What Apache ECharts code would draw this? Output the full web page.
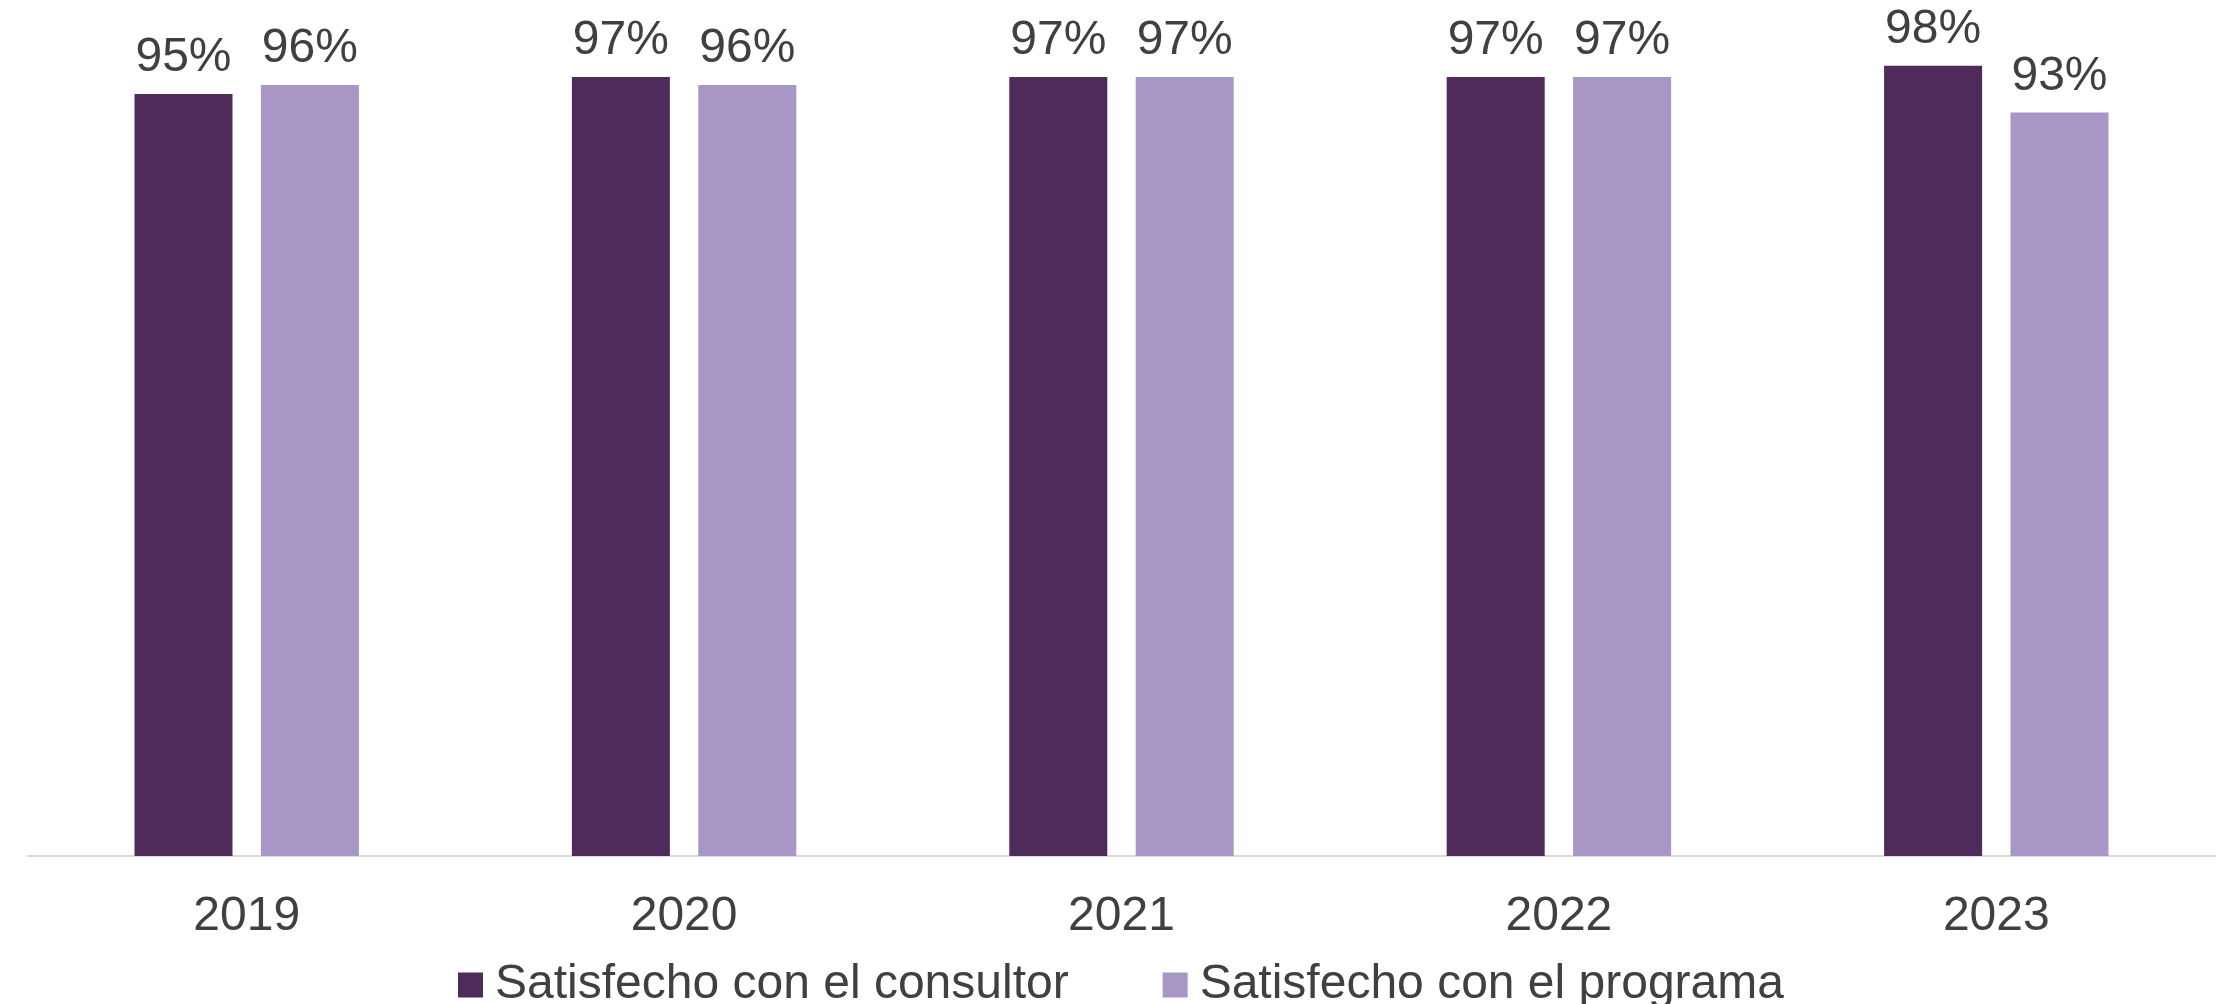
<!DOCTYPE html>
<html>
<head>
<meta charset="utf-8">
<script src="https://cdn.jsdelivr.net/npm/echarts@6/dist/echarts.min.js"></script>
<style>
html,body{margin:0;padding:0;background:#fff;}
#chart{width:2218px;height:1004px;}
</style>
</head>
<body>
<div id="chart"></div>
<script>
const categories = ['2019', '2020', '2021', '2022', '2023'];
const seriesNames = ['Satisfecho con el consultor', 'Satisfecho con el programa'];
const consultor = [94.9, 97, 97, 97, 98.4];
const programa = [96, 96, 97, 97, 92.6];

const font = '"Liberation Sans", Arial, sans-serif';
const pct = p => Math.round(p.value) + '%';
const chart = echarts.init(document.getElementById('chart'));
chart.setOption({
  animation: false,
  backgroundColor: '#ffffff',
  textStyle: { fontFamily: font },
  grid: { left: 28, right: 3, top: 53, bottom: 148, containLabel: false },
  legend: {
    bottom: -10,
    left: 453,
    itemWidth: 25,
    itemHeight: 25,
    itemGap: 94,
    icon: 'rect',
    textStyle: { fontSize: 48, color: '#404040', fontFamily: font, padding: [0, 0, 0, 7] },
    data: seriesNames
  },
  xAxis: {
    type: 'category',
    data: categories,
    axisTick: { show: false },
    axisLine: { show: true, lineStyle: { color: '#D9D9D9', width: 2 } },
    axisLabel: { fontSize: 48, color: '#404040', margin: 37, fontFamily: font }
  },
  yAxis: {
    type: 'value',
    min: 0,
    max: 100,
    show: false,
    splitLine: { show: false }
  },
  series: [
    {
      name: seriesNames[0],
      type: 'bar',
      data: consultor,
      barWidth: 98,
      barGap: '29%',
      itemStyle: { color: '#4F2B5B' },
      label: { show: true, position: 'top', distance: 12, fontSize: 48, color: '#404040', fontFamily: font, formatter: pct }
    },
    {
      name: seriesNames[1],
      type: 'bar',
      data: programa,
      barWidth: 98,
      barGap: '29%',
      itemStyle: { color: '#A796C6' },
      label: { show: true, position: 'top', distance: 12, fontSize: 48, color: '#404040', fontFamily: font, formatter: pct }
    }
  ]
});
</script>
</body>
</html>
